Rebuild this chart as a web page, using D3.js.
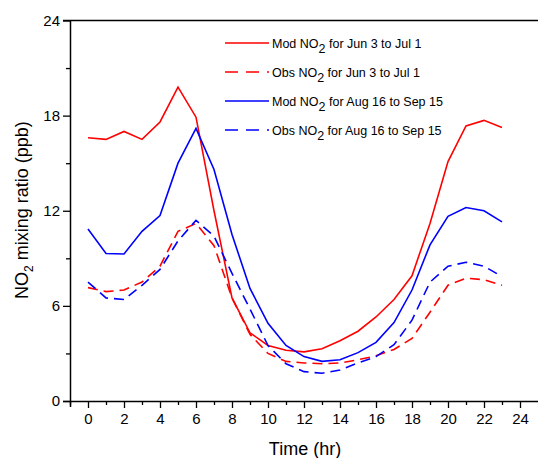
<!DOCTYPE html>
<html>
<head>
<meta charset="utf-8">
<script src="https://d3js.org/d3.v7.min.js"></script>
<style>
  body { margin: 0; background: #fff; }
  svg { font-family: "Liberation Sans", Arial, sans-serif; }
</style>
</head>
<body>
<script>
// hours of the day
var hours = d3.range(0, 24);

// NO2 mixing ratio (ppb)
var modJun = [16.6, 16.5, 17.0, 16.5, 17.6, 19.8, 17.9, 12.0, 6.5, 4.3, 3.5, 3.2, 3.1, 3.3, 3.8, 4.4, 5.3, 6.4, 7.9, 11.2, 15.1, 17.35, 17.7, 17.25];
var obsJun = [7.15, 6.9, 7.0, 7.5, 8.5, 10.7, 11.2, 9.8, 6.5, 4.2, 3.0, 2.5, 2.4, 2.35, 2.4, 2.6, 2.85, 3.25, 3.95, 5.6, 7.3, 7.75, 7.65, 7.3];
var modAug = [10.85, 9.3, 9.27, 10.7, 11.7, 15.0, 17.2, 14.6, 10.5, 7.1, 4.9, 3.5, 2.8, 2.5, 2.6, 3.05, 3.7, 4.95, 7.0, 9.85, 11.65, 12.2, 12.0, 11.3];
var obsAug = [7.5, 6.5, 6.4, 7.3, 8.3, 10.1, 11.4, 10.4, 8.05, 5.8, 3.5, 2.35, 1.85, 1.75, 1.95, 2.4, 2.8, 3.55, 5.1, 7.5, 8.5, 8.75, 8.5, 7.85];

var series = [
  {values: modJun, color: "#ff0000", dashed: false, text: "Mod NO", rest: " for Jun 3 to Jul 1"},
  {values: obsJun, color: "#ff0000", dashed: true,  text: "Obs NO", rest: " for Jun 3 to Jul 1"},
  {values: modAug, color: "#0000ff", dashed: false, text: "Mod NO", rest: " for Aug 16 to Sep 15"},
  {values: obsAug, color: "#0000ff", dashed: true,  text: "Obs NO", rest: " for Aug 16 to Sep 15"}
];

var yTicks = [0, 6, 12, 18, 24];
var xTicks = d3.range(0, 25, 2);

var W = 538, H = 458;
var x = d3.scaleLinear().domain([-1, 25.5]).range([70, 547]);
var y = d3.scaleLinear().domain([0, 24]).range([401, 20.5]);

var svg = d3.select("body").append("svg")
  .attr("width", W)
  .attr("height", H);

// lines
var line = d3.line()
  .x(function(d, i) { return x(hours[i]); })
  .y(function(d) { return y(d); });

svg.selectAll(".series")
  .data(series)
  .enter().append("path")
  .attr("class", "series")
  .attr("d", function(d) { return line(d.values); })
  .attr("fill", "none")
  .attr("stroke", function(d) { return d.color; })
  .attr("stroke-width", 1.6)
  .attr("stroke-dasharray", function(d) { return d.dashed ? "10,6" : null; });

// bottom axis
var xAxis = d3.axisBottom(x)
  .tickValues(d3.range(-1, 25))
  .tickSizeOuter(0)
  .tickSize(7)
  .tickFormat(function(d) { return d % 2 == 0 && d >= 0 ? d : ""; });
var gx = svg.append("g")
  .attr("transform", "translate(0," + y(0) + ")")
  .call(xAxis);
gx.select(".domain").attr("d", "M63,0.5H" + W).attr("stroke-width", 1.5);
gx.selectAll(".tick line")
  .attr("stroke-width", 1.3)
  .attr("y2", function(d) { return d % 2 == 0 && d >= 0 ? 7 : 4; });
gx.selectAll(".tick text")
  .attr("y", 12)
  .style("font-size", "15px")
  .style("font-family", "Liberation Sans, Arial, sans-serif")
  .attr("fill", "#000");

// left axis
var yAxis = d3.axisLeft(y)
  .tickValues(d3.range(0, 25, 3))
  .tickSizeOuter(0)
  .tickSize(7)
  .tickFormat(function(d) { return yTicks.indexOf(d) >= 0 ? d : ""; });
var gy = svg.append("g")
  .attr("transform", "translate(70,0)")
  .call(yAxis);
gy.select(".domain").attr("d", "M0.5," + y(24) + "V407").attr("stroke-width", 1.5);
gy.selectAll(".tick line")
  .attr("stroke-width", 1.3)
  .attr("x2", function(d) { return yTicks.indexOf(d) >= 0 ? -7 : -4; });
gy.selectAll(".tick text")
  .attr("x", -10)
  .style("font-size", "15px")
  .style("font-family", "Liberation Sans, Arial, sans-serif")
  .attr("fill", "#000");

// top frame line
svg.append("line")
  .attr("x1", 63).attr("x2", W)
  .attr("y1", y(24)).attr("y2", y(24))
  .attr("stroke", "#000")
  .attr("stroke-width", 1.5);

// axis titles
svg.append("text")
  .attr("x", 305)
  .attr("y", 455)
  .attr("text-anchor", "middle")
  .style("font-size", "18px")
  .text("Time (hr)");

var yt = svg.append("text")
  .attr("transform", "translate(28,210) rotate(-90)")
  .attr("text-anchor", "middle")
  .style("font-size", "18px");
yt.append("tspan").text("NO");
yt.append("tspan").attr("dy", 5).style("font-size", "12px").text("2");
yt.append("tspan").attr("dy", -5).text(" mixing ratio (ppb)");

// legend
var legend = svg.selectAll(".legend")
  .data(series)
  .enter().append("g")
  .attr("class", "legend")
  .attr("transform", function(d, i) { return "translate(225," + (43 + i * 29) + ")"; });

legend.append("line")
  .attr("x1", 0).attr("x2", 44)
  .attr("stroke", function(d) { return d.color; })
  .attr("stroke-width", 1.6)
  .attr("stroke-dasharray", function(d) { return d.dashed ? "13,8" : null; });

var lt = legend.append("text")
  .attr("x", 47)
  .attr("y", 5)
  .style("font-size", "12.5px");
lt.append("tspan").text(function(d) { return d.text; });
lt.append("tspan").attr("dy", 5).text("2");
lt.append("tspan").attr("dy", -5).text(function(d) { return d.rest; });
</script>
</body>
</html>
